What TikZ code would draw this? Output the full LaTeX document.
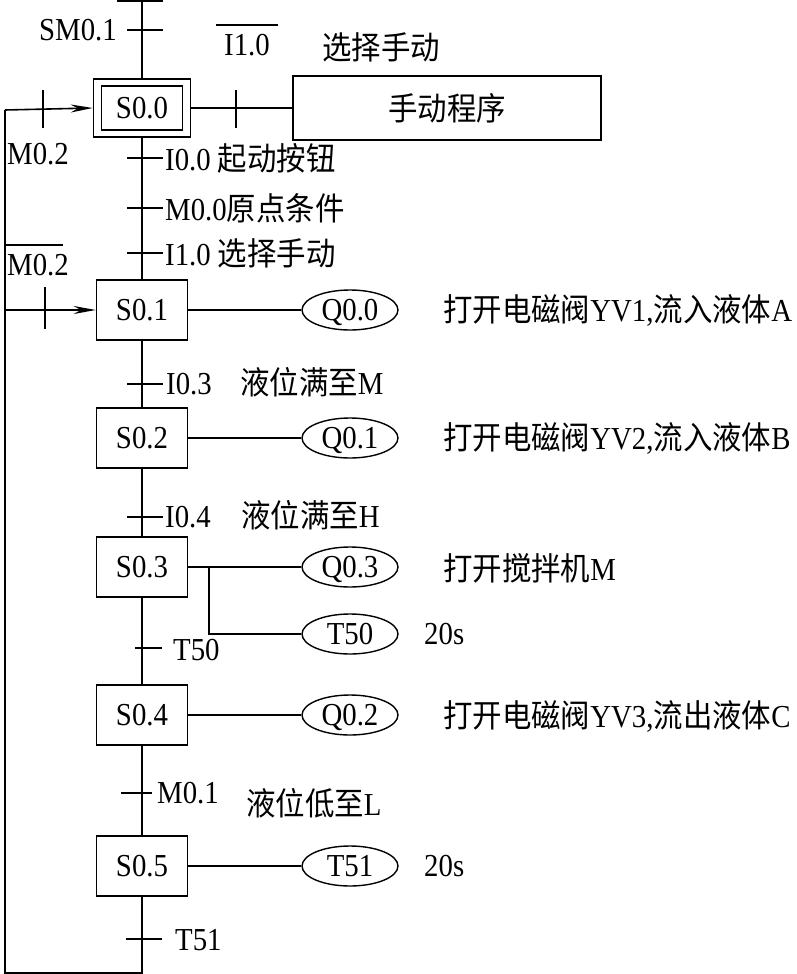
\documentclass[tikz,border=0pt]{standalone}
\usepackage{fontspec}
\setmainfont{Liberation Serif}[FakeStretch=0.9]
\newfontfamily\cjk{Noto Sans CJK SC}[FakeStretch=0.92]
\usetikzlibrary{arrows.meta,shapes.geometric}
\newcommand{\zh}[1]{{\cjk #1}}
\newcommand{\bigfont}{\fontsize{32}{36}\selectfont}
\tikzset{
  wire/.style={line width=1.6pt},
  lbl/.style={inner sep=0pt, font=\bigfont},
  stepbox/.style={draw, line width=1.6pt, minimum width=91pt, minimum height=60pt,
    inner sep=0pt, font=\bigfont},
  actbox/.style={ellipse, draw, line width=1.4pt, minimum width=96pt,
    minimum height=40pt, inner sep=0pt, text depth=0pt, font=\bigfont},
  retarrow/.style={wire, -{Stealth[length=22pt, width=8pt]}},
}

\begin{document}
\begin{tikzpicture}[x=1pt, y=-1pt]
\useasboundingbox (0,0) rectangle (797,974);

% steps
\node[stepbox, minimum width=97pt, minimum height=58pt] (s00) at (142,108) {};
\node[draw, line width=1.6pt, minimum width=81pt, minimum height=44pt,
  inner sep=0pt, font=\bigfont] (s00in) at (s00) {S0.0};
\node[stepbox] (s01) at (142,310) {S0.1};
\node[stepbox] (s02) at (142,438) {S0.2};
\node[stepbox] (s03) at (142,567) {S0.3};
\node[stepbox] (s04) at (142,715) {S0.4};
\node[stepbox] (s05) at (142,866) {S0.5};

% manual program
\node[draw, line width=1.6pt, minimum width=308pt, minimum height=64pt,
  font=\bigfont] (manual) at (447,108) {\zh{手动程序}};

% actions
\node[actbox] (q00) at (350,310) {Q0.0};
\node[actbox] (q01) at (350,438) {Q0.1};
\node[actbox] (q03) at (350,567) {Q0.3};
\node[actbox] (t50) at (350,634) {T50};
\node[actbox] (q02) at (350,715) {Q0.2};
\node[actbox] (t51) at (350,866) {T51};

% action texts
\node[lbl, anchor=west] (d-q00) at (443,310) {\zh{打开电磁阀}YV1,\zh{流入液体}A};
\node[lbl, anchor=west] (d-q01) at (443,438) {\zh{打开电磁阀}YV2,\zh{流入液体}B};
\node[lbl, anchor=west] (d-q03) at (443,568) {\zh{打开搅拌机}M};
\node[lbl, anchor=west] (d-t50) at (424,634) {20s};
\node[lbl, anchor=west] (d-q02) at (443,716) {\zh{打开电磁阀}YV3,\zh{流出液体}C};
\node[lbl, anchor=west] (d-t51) at (424,866) {20s};

% main line
\coordinate (top) at (142,0);
\coordinate (bot) at (142,973);
\coordinate (lft) at (5,973);
\coordinate (ret0) at (5,110);
\coordinate (ret1) at (5,310);
\draw[wire] (top) -- (s00.north);
\draw[wire] (s00.south) -- (s01.north);
\draw[wire] (s01.south) -- (s02.north);
\draw[wire] (s02.south) -- (s03.north);
\draw[wire] (s03.south) -- (s04.north);
\draw[wire] (s04.south) -- (s05.north);
\draw[wire] (s05.south) -- (bot) -- (lft) -- (ret0);
\draw[retarrow] (ret0) -- (s00.west);
\draw[retarrow] (ret1) -- (s01.west);

% step to action
\draw[wire] (s00.east) -- (manual.west);
\draw[wire] (s01.east) -- (q00.west);
\draw[wire] (s02.east) -- (q01.west);
\draw[wire] (s03.east) -- (q03.west);
\coordinate (br) at (209,567);
\draw[wire] (br) |- (t50.west);
\draw[wire] (s04.east) -- (q02.west);
\draw[wire] (s05.east) -- (t51.west);

% transition ticks
\foreach \ty/\xa/\xb in {1/117/163, 30/127/163, 158/127/163, 208/127/163,
    253/127/163, 384/127/163, 517/127/163, 648/135/162, 793/121/152, 939/126/162}
  \draw[wire] (\xa,\ty) -- (\xb,\ty);
\draw[wire] (43,90) -- (43,128);
\draw[wire] (45,287) -- (45,329);
\draw[wire] (236,90) -- (236,128);

% transition labels
\node[lbl, anchor=east] (l-sm01) at (117,30) {SM0.1};
\node[lbl] (l-i10n) at (247,45) {I1.0};
\draw[wire, line width=1.4pt] ([xshift=-8pt, yshift=9pt]l-i10n.north west)
  -- ([xshift=8pt, yshift=9pt]l-i10n.north east);
\node[lbl, anchor=west] (l-man) at (322,47) {\zh{选择手动}};
\node[lbl] (l-m02) at (38,154) {M0.2};
\node[lbl] (l-m02n) at (38,265) {M0.2};
\draw[wire, line width=1.4pt] ([xshift=-2pt, yshift=9pt]l-m02n.north west)
  -- ([xshift=-6pt, yshift=9pt]l-m02n.north east);
\node[lbl, anchor=west] (l-i00) at (165,158) {I0.0 \zh{起动按钮}};
\node[lbl, anchor=west] (l-m00) at (165,208) {M0.0\zh{原点条件}};
\node[lbl, anchor=west] (l-i10) at (165,253) {I1.0 \zh{选择手动}};
\node[lbl, anchor=west] (l-i03) at (166,384) {I0.3};
\node[lbl, anchor=west] (l-i03t) at (240,382) {\zh{液位满至}M};
\node[lbl, anchor=west] (l-i04) at (165,517) {I0.4};
\node[lbl, anchor=west] (l-i04t) at (241,515) {\zh{液位满至}H};
\node[lbl, anchor=west] (l-t50) at (173,650) {T50};
\node[lbl, anchor=west] (l-m01) at (157,793) {M0.1};
\node[lbl, anchor=west] (l-m01t) at (246,803) {\zh{液位低至}L};
\node[lbl, anchor=west] (l-t51) at (175,940) {T51};

\end{tikzpicture}
\end{document}
